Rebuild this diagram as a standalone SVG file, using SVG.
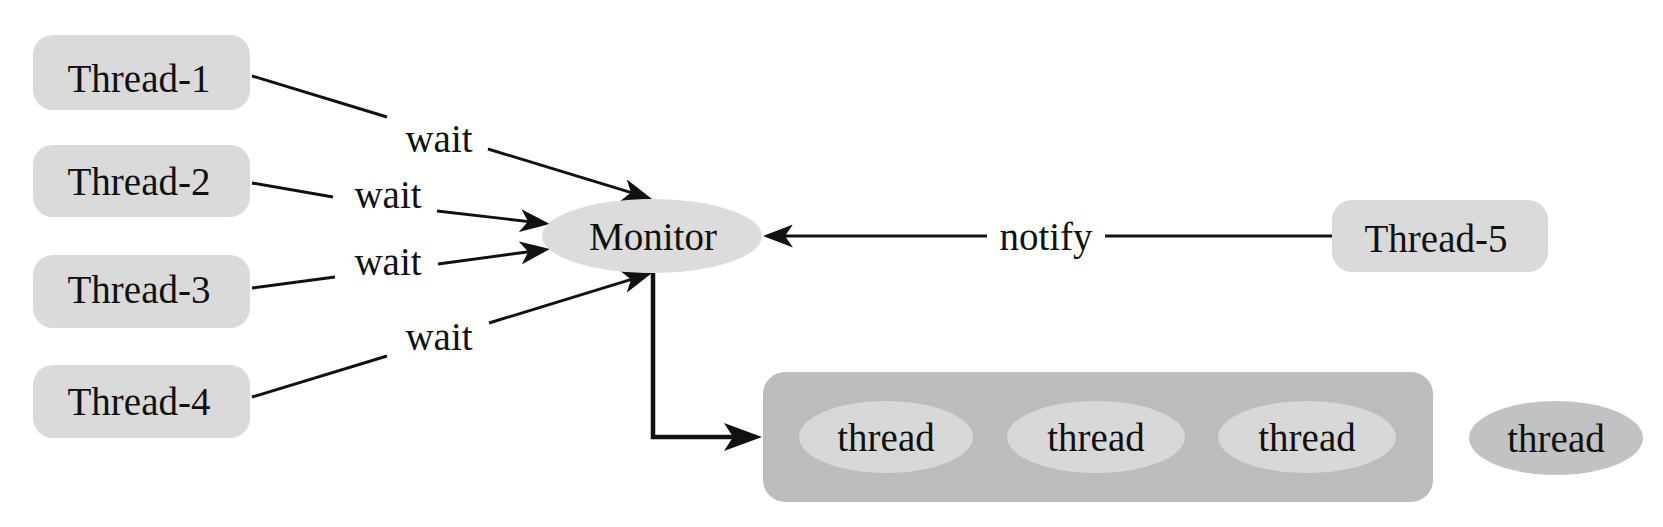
<svg xmlns="http://www.w3.org/2000/svg" width="1663" height="527" viewBox="0 0 1663 527">
  <style>
    text { font-family: "Liberation Serif", "Times New Roman", serif; font-size: 39px; fill: #111; text-anchor: middle; }
    .tbox { fill: #dadada; }
    .mon { fill: #dcdcdc; }
    .pool { fill: #bcbcbc; }
    .inner { fill: #d8d8d8; }
    .lone { fill: #c2c2c2; }
    .edge { stroke: #111; stroke-width: 2.9; fill: none; }
    .bold { stroke: #111; stroke-width: 4.5; fill: none; }
  </style>
  <defs>
    <marker id="arr" markerUnits="userSpaceOnUse" markerWidth="30" markerHeight="23" viewBox="0 0 30 23" refX="22" refY="11.5" orient="auto">
      <path d="M0,0 L30,11.5 L0,23 L8,11.5 Z" fill="#111"/>
    </marker>
    <marker id="arrB" markerUnits="userSpaceOnUse" markerWidth="38" markerHeight="28" viewBox="0 0 38 28" refX="30" refY="14" orient="auto">
      <path d="M0,0 L38,14 L0,28 L9,14 Z" fill="#111"/>
    </marker>
  </defs>

  <g id="connectors">
    <line class="edge" x1="252" y1="76" x2="387" y2="117"/>
    <line class="edge" x1="488" y1="149" x2="644.4" y2="196.7" marker-end="url(#arr)"/>
    <line class="edge" x1="252" y1="183" x2="333" y2="197"/>
    <line class="edge" x1="437" y1="211" x2="542" y2="223.1" marker-end="url(#arr)"/>
    <line class="edge" x1="252" y1="288" x2="335" y2="277"/>
    <line class="edge" x1="438" y1="264" x2="542.1" y2="250" marker-end="url(#arr)"/>
    <line class="edge" x1="252" y1="397" x2="387" y2="356"/>
    <line class="edge" x1="489" y1="323" x2="644.4" y2="275.4" marker-end="url(#arr)"/>
    <line class="edge" x1="1332" y1="236" x2="1105" y2="236"/>
    <line class="edge" x1="987" y1="236" x2="771" y2="236" marker-end="url(#arr)"/>
    <path class="bold" d="M653,273 V437 H754" marker-end="url(#arrB)"/>
    <text x="439" y="152">wait</text>
    <text x="388" y="208">wait</text>
    <text x="388" y="275">wait</text>
    <text x="439" y="350">wait</text>
    <text x="1046" y="250">notify</text>
  </g>

  <g id="thread1"><rect class="tbox" x="33" y="35" width="217" height="75" rx="20"/><text x="139" y="92">Thread-1</text></g>
  <g id="thread2"><rect class="tbox" x="33" y="145" width="217" height="72" rx="20"/><text x="139" y="195">Thread-2</text></g>
  <g id="thread3"><rect class="tbox" x="33" y="255" width="217" height="73" rx="20"/><text x="139" y="303">Thread-3</text></g>
  <g id="thread4"><rect class="tbox" x="33" y="365" width="217" height="73" rx="20"/><text x="139" y="415">Thread-4</text></g>
  <g id="thread5"><rect class="tbox" x="1332" y="200" width="216" height="72" rx="20"/><text x="1436" y="252">Thread-5</text></g>

  <g id="monitor"><ellipse class="mon" cx="652" cy="236" rx="110" ry="37"/><text x="653" y="250">Monitor</text></g>

  <g id="pool">
    <rect class="pool" x="763" y="372" width="670" height="130" rx="22"/>
    <g id="pthread1"><ellipse class="inner" cx="886" cy="437" rx="87" ry="36"/><text x="886" y="451">thread</text></g>
    <g id="pthread2"><ellipse class="inner" cx="1096" cy="437" rx="89" ry="36"/><text x="1096" y="451">thread</text></g>
    <g id="pthread3"><ellipse class="inner" cx="1307" cy="437" rx="89" ry="36"/><text x="1307" y="451">thread</text></g>
  </g>

  <g id="lonethread"><ellipse class="lone" cx="1556" cy="438" rx="87" ry="37"/><text x="1556" y="452">thread</text></g>
</svg>
